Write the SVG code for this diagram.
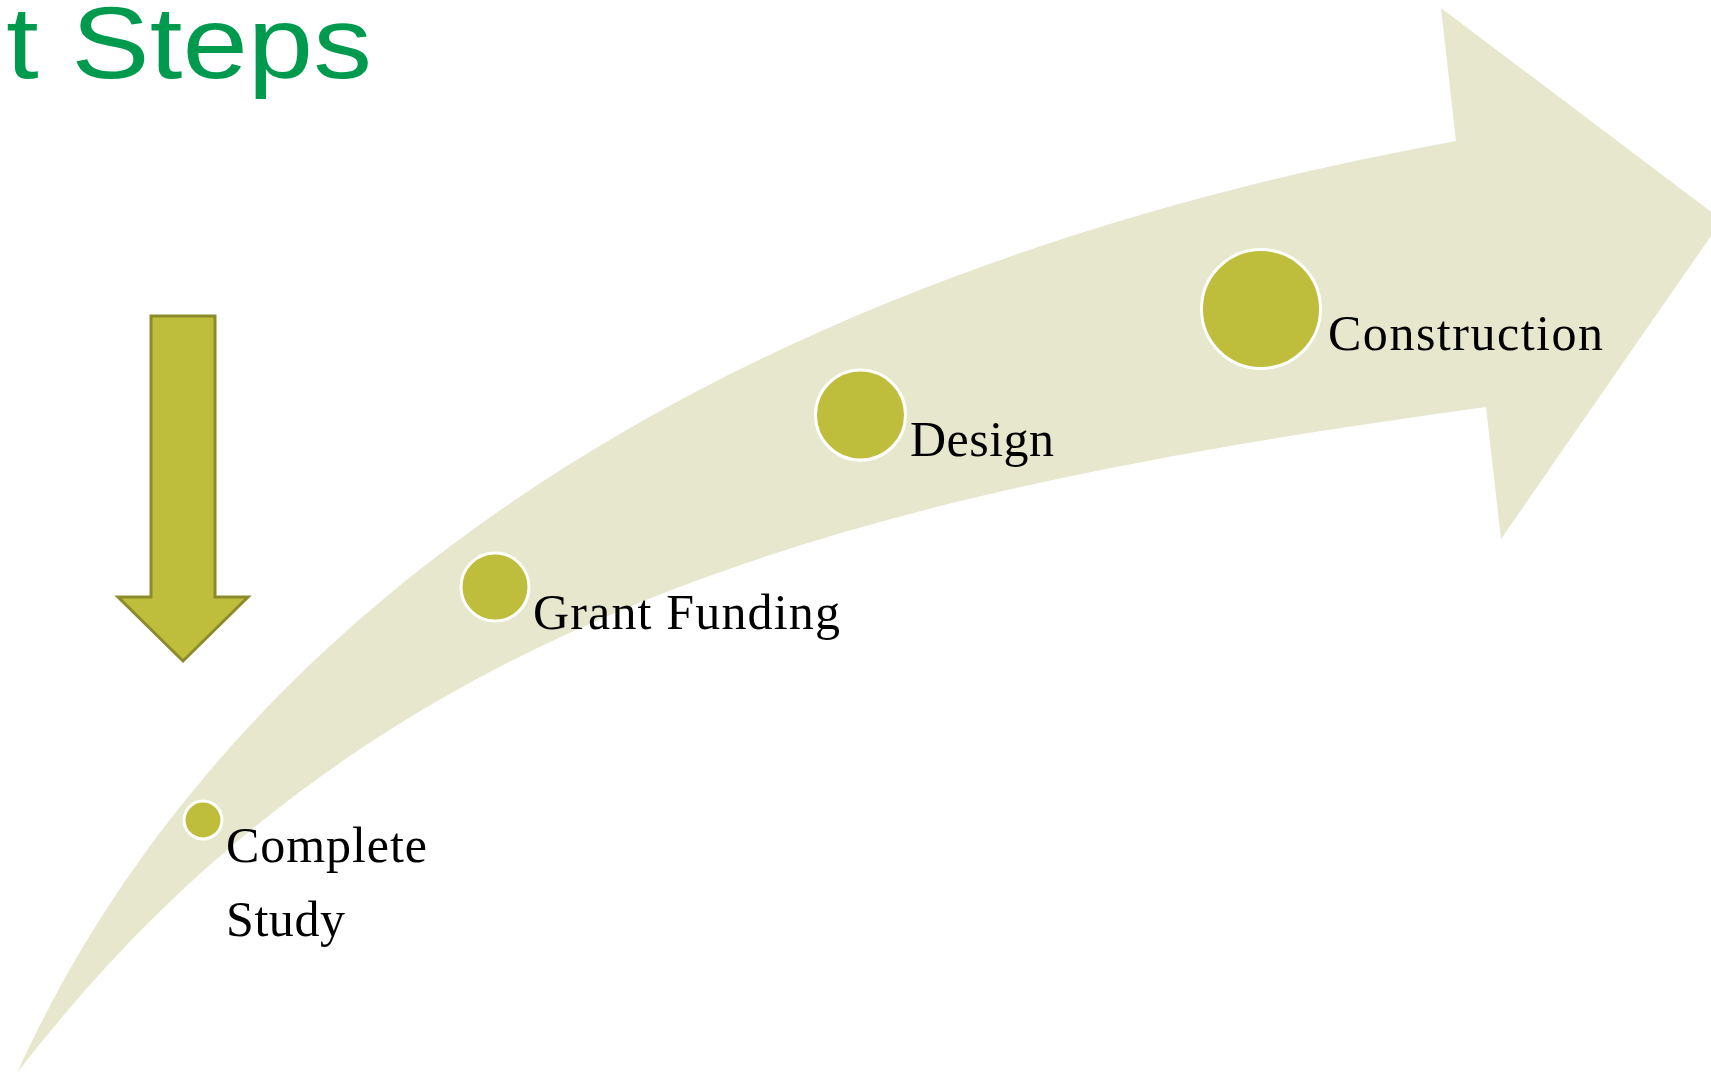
<svg xmlns="http://www.w3.org/2000/svg" width="1711" height="1074" viewBox="0 0 1711 1074">
<style>
.dot{fill:#BEBE3C;stroke:#FFFFFF;stroke-width:3}
.lbl{font-family:"Liberation Serif","DejaVu Serif",serif;font-size:50px;fill:#000000}
.title{font-family:"Liberation Sans",Arial,sans-serif;font-size:102px;fill:#009A4E}
</style>
<rect x="0" y="0" width="1711" height="1074" fill="#FFFFFF"/>
<text class="title" x="6" y="78" textLength="366" lengthAdjust="spacingAndGlyphs">t Steps</text>
<g id="connectors">
<path id="big-arrow" fill="#E6E7CD" d="M17,1073 C250,560 800,260 1456,141 L1441,8 L1722,220 L1501,539 L1486,407 C836,496 367,618 17,1073 Z"/>
<path id="down-arrow" fill="#BEBE3C" stroke="#8B8B2C" stroke-width="3" d="M151,316 L215,316 L215,597 L248,597 L183,661 L118,597 L151,597 Z"/>
</g>
<g id="step-complete-study">
<circle class="dot" cx="203" cy="820" r="19"/>
<text class="lbl" x="226" y="862" textLength="201" lengthAdjust="spacing">Complete</text>
<text class="lbl" x="226" y="936" textLength="119" lengthAdjust="spacing">Study</text>
</g>
<g id="step-grant-funding">
<circle class="dot" cx="495" cy="587" r="34"/>
<text class="lbl" x="533" y="629" textLength="307" lengthAdjust="spacing">Grant Funding</text>
</g>
<g id="step-design">
<circle class="dot" cx="860.5" cy="415" r="45"/>
<text class="lbl" x="910" y="456" textLength="144" lengthAdjust="spacing">Design</text>
</g>
<g id="step-construction">
<circle class="dot" cx="1261" cy="309" r="59.5"/>
<text class="lbl" x="1328" y="350" textLength="275" lengthAdjust="spacing">Construction</text>
</g>
</svg>
